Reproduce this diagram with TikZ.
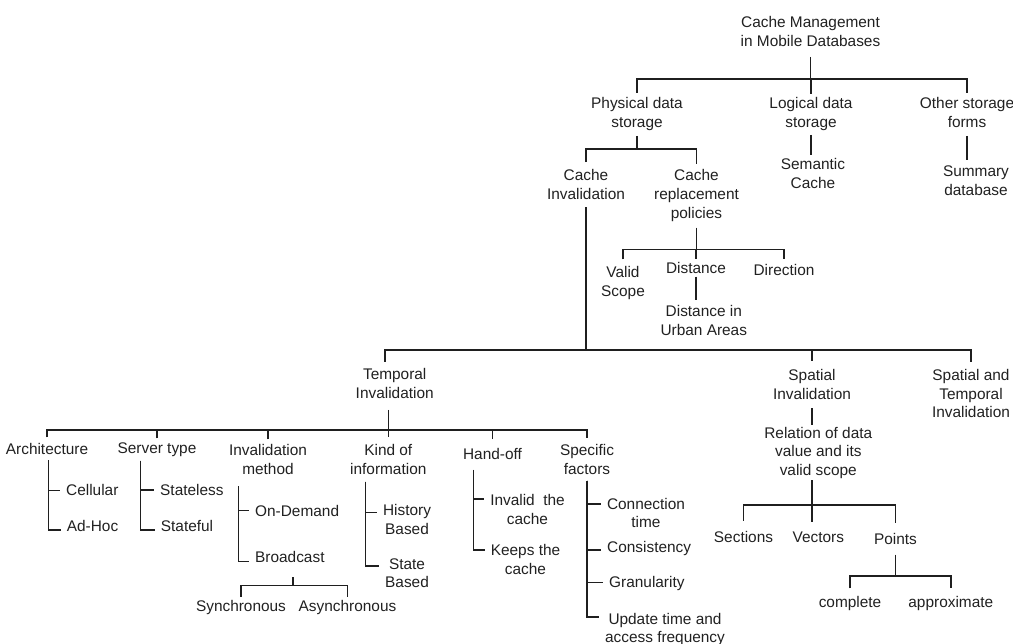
\documentclass[tikz,border=0pt]{standalone}
\usepackage{fontspec}
\setmainfont{Liberation Sans}
\newcommand\dfont{\fontsize{15.4}{18.6}\selectfont}
\definecolor{txtc}{gray}{0.13}
\definecolor{linec}{gray}{0.12}
\begin{document}
\begin{tikzpicture}[x=1pt,y=-1pt,
  lbl/.style={font=\dfont, text=txtc, align=center, inner xsep=6pt, inner ysep=6pt, anchor=base},
  lst/.style={lbl, anchor=base west},
  cn/.style={draw=linec, line width=1.4pt}]
\fill[white] (0,0) rectangle (1013,644);
\useasboundingbox (0,0) rectangle (1013,644);
% bar levels
\coordinate (L1) at (0,79);
\coordinate (L2) at (0,149);
\coordinate (L3) at (0,249.3);
\coordinate (L4) at (0,350);
\coordinate (L5) at (0,430);
\coordinate (L7) at (0,505);
\coordinate (L8) at (0,576);
% nodes (anchor = baseline of the last line)
\node[lbl, inner ysep=10pt] (root) at (810.5,46.6) {Cache Management\\in Mobile Databases};
\node[lbl, inner ysep=5pt] (phys) at (637,127.6) {Physical data\\storage};
\node[lbl, inner ysep=4pt] (logi) at (811,127.6) {Logical data\\storage};
\node[lbl, inner ysep=5pt] (other) at (967,127.6) {Other storage\\forms};
\node[lbl, inner ysep=4pt] (sem) at (813,188.6) {Semantic\\Cache};
\node[lbl] (summ) at (976,195.6) {Summary\\database};
\node[lbl, inner ysep=7.5pt] (cinv) at (586,199.6) {Cache\\Invalidation};
\node[lbl] (crep) at (696.5,218.2) {Cache\\replacement\\policies};
\node[lbl, inner ysep=7pt] (valid) at (623,296.3) {Valid\\Scope};
\node[lbl, inner ysep=3pt] (dist) at (696,273.3) {Distance};
\node[lbl, inner ysep=5.5pt] (dir) at (784,276) {Direction};
\node[lbl, inner ysep=5.5pt] (urban) at (703.8,335.3) {Distance in\\Urban Areas};
\node[lbl, inner ysep=7pt] (temp) at (394.7,398.6) {Temporal\\Invalidation};
\node[lbl, inner ysep=8.5pt] (spat) at (812,399.3) {Spatial\\Invalidation};
\node[lbl, inner ysep=7.5pt] (st) at (971,417.9) {Spatial and\\Temporal\\Invalidation};
\node[lbl, inner ysep=1.5pt] (rel) at (818.3,475.5) {Relation of data\\value and its\\valid scope};
\node[lbl, inner ysep=10pt] (sect) at (743.5,542.3) {Sections};
\node[lbl, inner ysep=10pt] (vect) at (818.3,542.3) {Vectors};
\node[lbl, inner ysep=10pt] (points) at (895.5,544.3) {Points};
\node[lbl, inner ysep=8pt] (compl) at (850,607.7) {complete};
\node[lbl, inner ysep=8pt] (approx) at (950.8,607.7) {approximate};
\node[lbl, inner ysep=5.5pt] (arch) at (47,454.3) {Architecture};
\node[lbl, inner ysep=4pt] (serv) at (157,453.3) {Server type};
\node[lbl, inner ysep=5pt] (invm) at (268,474.3) {Invalidation\\method};
\node[lbl, inner ysep=7pt] (kind) at (388.3,474.3) {Kind of\\information};
\node[lbl, inner ysep=9.5pt] (hand) at (492.5,460) {Hand-off};
\node[lbl, inner ysep=6pt] (spec) at (587,474.3) {Specific\\factors};
\node[lst] (cell) at (60,495.7) {Cellular};
\node[lst] (adhoc) at (60.7,531.7) {Ad-Hoc};
\node[lst] (statel) at (154,495) {Stateless};
\node[lst] (statef) at (154.7,531.7) {Stateful};
\node[lst] (ondem) at (249,516.7) {On-Demand};
\node[lst, inner ysep=14.4pt] (broad) at (249,562.3) {Broadcast};
\node[lbl, inner ysep=3.8pt] (sync) at (241,611.7) {Synchronous};
\node[lbl, inner ysep=3.8pt] (async) at (347.5,611.7) {Asynchronous};
\node[lbl] (hist) at (407,534.3) {History\\Based};
\node[lbl] (state) at (407,587.6) {State\\Based};
\node[lbl] (inval) at (527.5,524.3) {Invalid\ \ the\\cache};
\node[lbl] (keeps) at (525.5,574.3) {Keeps the\\cache};
\node[lbl] (conn) at (646,527.9) {Connection\\time};
\node[lst] (cons) at (601,552.7) {Consistency};
\node[lst] (gran) at (603,587.3) {Granularity};
\node[lbl] (upd) at (665,642.6) {Update time and\\access frequency};
% root level
\draw[cn] (root.south) -- (root.south |- L1);
\draw[cn] (phys.north) |- (L1 -| other.north) -- (other.north);
\draw[cn] (logi.north) -- (logi.north |- L1);
\draw[cn] (logi.south) -- (logi.south |- sem.north);
\draw[cn] (other.south) ++(0,3) -- (other.south |- summ.north);
% physical storage
\draw[cn] (phys.south) -- (phys.south |- L2);
\draw[cn] (cinv.north) |- (L2 -| crep.north) -- (crep.north);
% replacement policies
\draw[cn] (crep.south) -- (crep.south |- L3);
\draw[cn] (valid.north) |- (L3 -| dir.north) -- (dir.north);
\draw[cn] (dist.north) -- (dist.north |- L3);
\draw[cn] (dist.south) -- (dist.south |- urban.north);
% invalidation
\draw[cn] (cinv.south) -- (cinv.south |- L4);
\draw[cn] ([xshift=-9.7pt]temp.north) |- (L4 -| st.north) -- (st.north);
\draw[cn] (spat.north) -- (spat.north |- L4);
% temporal
\draw[cn] (kind.north |- temp.south) ++(0,4) -- (kind.north);
\draw[cn] (arch.north) |- (L5 -| spec.north) -- (spec.north);
\draw[cn] (serv.north) -- (serv.north |- L5);
\draw[cn] (invm.north) -- (invm.north |- L5);
\draw[cn] (hand.north) -- (hand.north |- L5);
% lists
\draw[cn] ([xshift=1.3pt]arch.south) |- ([yshift=5pt]cell.base west);
\draw[cn] ([xshift=1.3pt]arch.south) |- ([yshift=1.7pt]adhoc.base west);
\draw[cn] ([xshift=-16.3pt]serv.south) |- ([yshift=5pt]statel.base west);
\draw[cn] ([xshift=-16.3pt]serv.south) |- ([yshift=1.7pt]statef.base west);
\draw[cn] ([xshift=-29.7pt,yshift=-6.5pt]invm.south) |- ([yshift=6pt]ondem.base west);
\draw[cn] ([xshift=-29.7pt,yshift=-6.5pt]invm.south) |- ([yshift=0.6pt]broad.base west);
\draw[cn] ([xshift=-22.6pt]kind.south) |- ([yshift=22pt]hist.base west);
\draw[cn] ([xshift=-22.6pt]kind.south) |- ([yshift=21.6pt]state.base west);
\draw[cn] ([xshift=-19.2pt]hand.south) |- ([yshift=25.3pt]inval.base west);
\draw[cn] ([xshift=-19.2pt]hand.south) |- ([yshift=24.3pt]keeps.base west);
\draw[cn] (spec.south) |- ([yshift=23.9pt]conn.base west);
\draw[cn] (spec.south) |- ([yshift=2.7pt]cons.base west);
\draw[cn] (spec.south) |- ([yshift=5pt]gran.base west);
\draw[cn] (spec.south) |- ([yshift=25.6pt]upd.base west);
% broadcast
\draw[cn] ([xshift=3pt]broad.south) -- ++(0,8.3) coordinate (bb);
\draw[cn] (sync.north) |- (bb) -| (async.north);
% spatial
\draw[cn] (spat.south) -- (spat.south |- rel.north);
\draw[cn] (spat.south |- rel.south) -- (spat.south |- vect.north);
\draw[cn] (sect.north) |- (L7 -| points.north) -- (points.north);
\draw[cn] (points.south) -- (points.south |- L8);
\draw[cn] (compl.north) |- (L8 -| approx.north) -- (approx.north);
\end{tikzpicture}
\end{document}
